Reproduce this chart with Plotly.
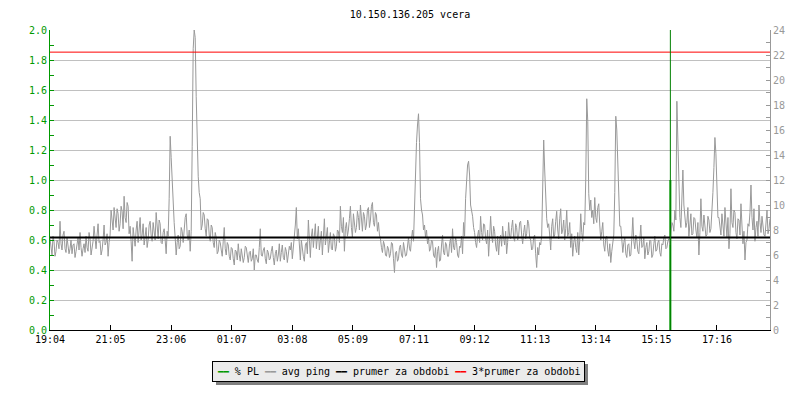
import plotly.graph_objects as go

# ---------------- data ----------------
title_text = "10.150.136.205 vcera"
start_time = "19:04"
tick_labels = ["19:04", "21:05", "23:06", "01:07", "03:08", "05:09",
               "07:11", "09:12", "11:13", "13:14", "15:15", "17:16"]
sample_step_min = 2          # minutes between ping samples
x_end_min = 1438             # end of time window (minutes from start)

# average ping (ms), right axis, one sample every 2 minutes from 19:04
avg_ping_ms = [
    # 19:04 -
    7.3, 6.4, 6.0, 7.5, 7.1, 5.9, 6.3, 7.2, 7.0, 6.5, 8.7, 6.9, 6.4, 7.6, 7.9, 6.5, 6.2, 7.4, 6.8, 6.1,
    6.5, 7.2, 6.1, 6.8, 6.9, 5.8, 6.3, 6.7, 7.4, 6.4,
    7.8, 6.6, 5.9, 6.5, 6.9, 6.2, 7.5, 6.6, 6.3, 7.8, 7.3, 6.0, 6.6, 7.1, 8.3, 6.9, 6.5, 7.6, 8.5, 7.0,
    7.1, 6.0, 6.4, 7.2, 8.4, 6.8, 7.0, 7.7, 5.9, 7.0,
    7.6, 9.6, 8.9, 8.0, 9.8, 8.6, 8.2, 9.7, 9.3, 7.9, 8.5, 9.9, 9.5, 8.1, 10.7, 9.0, 8.6, 10.2, 9.9, 7.7,
    8.3, 7.1, 5.5, 8.2, 7.4, 6.7, 8.0, 8.7, 7.0, 7.9, 9.0, 7.2, 7.6, 8.5, 6.8, 7.5, 8.2, 6.6, 7.2, 8.4,
    8.7, 7.6, 7.1, 8.6, 8.0, 7.2, 9.4, 8.1, 7.3, 8.8, 8.5, 7.0, 6.9, 7.8, 8.1, 7.2, 6.1, 7.9, 7.5, 10.5,
    15.5, 13.8, 12.0, 9.6,
    8.6, 7.4, 6.0, 7.0, 7.6, 6.5, 6.7, 8.2, 7.9, 7.0, 8.3, 9.0, 9.3, 7.6, 7.2, 8.0, 6.3, 7.9,
    14.7, 22.5, 24.0, 23.4, 18.7, 14.6, 12.3, 11.0,
    10.5, 8.0, 8.4, 9.4, 9.2, 8.1, 7.5, 8.9, 8.8, 7.6, 7.1, 8.4, 8.2, 7.0, 6.6, 7.8, 7.4, 6.1,
    6.3, 7.2, 7.0, 6.4, 5.9, 7.1,
    # ~ 01:00 -
    8.2, 6.5, 6.0, 7.0, 6.8, 5.9, 5.6, 6.6, 6.5, 5.7, 5.2, 6.4, 6.3, 5.6, 6.9, 6.0, 5.5, 6.5,
    6.1, 5.4, 5.8, 6.7, 6.6, 5.9, 5.4, 6.2,
    6.3, 5.5, 5.7, 6.5, 4.8, 6.0, 6.0, 5.6, 5.4, 6.6, 8.1, 6.0, 5.9, 6.4, 6.6, 5.7, 5.3, 6.4, 6.2, 5.6,
    5.7, 6.3, 6.7, 5.8, 5.2, 6.1, 6.4, 5.5, 6.0, 6.9, 5.5, 6.2, 6.8, 5.8, 5.6, 6.6, 6.3, 5.4, 5.9, 6.7,
    6.4, 7.0, 5.7, 6.5, 7.1, 8.4, 9.8, 7.3, 8.1, 6.7, 5.6, 7.2, 6.3, 5.9, 5.5, 6.8,
    7.0, 6.1, 8.8, 7.2, 5.8, 7.5, 8.1, 6.6, 7.4, 8.5, 6.5, 7.3, 8.3, 6.4, 7.1, 7.9, 6.0, 7.4,
    8.9, 6.8, 7.6, 8.2, 6.2, 7.0, 7.8, 6.5, 6.4, 7.7, 7.5, 6.3, 6.7, 8.0, 7.9, 7.0,
    9.9, 8.3, 7.8, 9.0, 6.3, 8.1, 8.6, 7.5, 8.0, 8.9, 9.9, 8.2, 7.4, 9.3, 8.7, 7.8, 8.2, 9.5, 9.0, 8.0,
    10.0, 8.5, 7.9, 9.4, 9.1, 8.0, 8.4, 9.6, 9.8, 8.2, 8.8, 9.9, 10.2, 8.6, 8.3, 9.4, 9.2, 7.9, 8.6, 7.6,
    7.3, 6.6, 6.2, 7.1, 6.8, 6.0, 5.9, 6.7, 6.5, 5.8, 6.1, 7.0, 6.9, 5.7, 4.6, 6.2, 6.3, 5.5, 5.7, 6.6,
    6.8, 6.0, 5.8, 7.0, 6.6, 5.9, 6.0, 7.1, 7.4, 6.5,
    # ~ 07:00 -
    6.3, 7.3, 8.0, 7.1,
    9.9, 13.0, 15.0, 16.4, 17.3, 15.0, 10.5, 9.6, 9.2, 8.0, 8.4, 7.4, 8.0, 6.9,
    7.4, 6.3, 6.5, 7.2, 7.1, 6.0, 5.8, 6.6, 5.0, 6.3, 6.7, 5.5, 5.6, 6.8, 7.6, 6.2, 6.0, 7.0,
    6.8, 5.9, 5.9, 6.9, 7.3, 6.2, 8.1, 6.6, 6.4, 7.4, 7.0, 6.0, 5.8, 6.7, 6.6, 7.5, 6.1, 8.6,
    7.5, 10.5, 12.0, 13.2, 13.5, 12.4, 10.0, 9.6, 9.1, 8.2, 7.8, 7.0,
    6.6, 7.5, 8.0, 7.0, 9.1, 7.8, 7.2, 8.5, 8.4, 7.3, 6.9, 8.0, 5.9, 7.4, 9.1, 7.6, 7.0, 8.3,
    7.9, 6.8, 6.3, 7.5, 6.0, 7.2, 7.6, 6.7, 8.3, 7.4, 6.8, 7.9, 6.1, 7.0, 8.6, 7.5, 7.3, 8.2,
    8.8, 7.4, 7.1, 8.5, 8.2, 7.2, 7.5, 8.6, 8.7, 7.6, 6.9, 7.8, 8.4, 7.3, 7.7, 8.8, 8.5, 7.4,
    # ~ 11:00 -
    7.2, 6.4, 6.5, 7.4, 7.6, 6.1, 5.0, 6.6, 6.0, 7.0, 6.8, 7.5,
    11.0, 15.2, 12.8, 10.4, 8.9, 8.2,
    8.5, 7.6, 6.4, 8.3, 8.9, 7.4, 7.6, 8.7, 9.5, 8.0, 7.3, 8.9, 9.7, 7.7, 8.0, 8.8, 7.2, 8.1,
    9.6, 7.5, 7.8, 8.6, 6.6, 7.7, 5.9, 7.0, 7.5, 6.6, 6.2, 7.8, 6.0, 7.2, 9.3, 7.8, 7.1, 8.6,
    8.4, 12.0, 18.5, 16.7, 10.9, 9.6, 10.4, 9.0,
    9.6, 8.5, 10.6, 9.0, 8.6, 9.8, 10.1, 8.4,
    7.2, 7.9, 8.6, 6.8, 6.3, 7.4, 7.5, 6.4, 5.9, 6.9, 5.4, 6.3, 6.8, 7.6,
    11.0, 17.1, 16.0, 13.5, 10.0, 8.3, 8.3, 7.0,
    6.2, 7.0, 7.4, 6.1, 5.8, 6.8, 6.9, 5.9, 6.0, 7.3, 9.0, 7.1, 6.5, 7.6, 7.2, 6.3,
    6.1, 7.2, 8.4, 6.6, 6.7, 7.4, 5.7, 6.6, 7.0, 6.0, 6.3, 7.2, 7.1, 5.8, 6.0, 6.9,
    7.5, 6.3, 6.4, 7.0, 7.2, 6.2, 5.9, 6.9, 6.8, 7.4, 7.6, 6.5, 6.6, 7.1, 7.3, 6.8,
    # ~ 15:40 -
    7.8, 8.6, 8.4, 7.9, 9.6, 8.8, 18.3, 14.7, 11.5, 9.0, 8.2, 10.4, 12.8, 10.0, 9.0, 8.2,
    8.6, 9.8, 7.5, 8.5, 9.3, 7.6, 7.7, 9.0, 8.9, 8.0, 7.4, 8.6, 6.0, 7.8, 10.5, 8.3,
    7.9, 9.2, 8.4, 7.5, 7.6, 9.1, 8.8, 7.8, 8.1, 9.3,
    11.0, 13.0, 15.4, 14.1, 11.0, 9.0,
    9.0, 8.0, 7.6, 9.3, 8.5, 7.5, 9.8, 8.4, 7.4, 9.0, 6.5, 7.7, 11.3, 8.6, 8.2, 9.6,
    9.4, 7.8, 7.3, 8.9, 8.8, 7.6, 10.1, 8.4, 6.9, 7.9, 5.6, 7.0, 7.2, 8.5, 8.3, 9.4,
    11.6, 9.0, 8.0, 9.7, 7.1, 8.2, 8.7, 7.5, 10.0, 8.6, 7.8, 9.1, 8.5, 7.6, 7.5, 8.8,
    9.6, 7.7, 8.1, 8.9,
]

mean_ping_ms = 7.41                 # "prumer za obdobi"
three_mean_ms = 3 * mean_ping_ms    # "3*prumer za obdobi"

pl_event_time = "15:43"             # packet loss event
pl_percent = 1.0                    # % PL at the event

legend_names = ["% PL", "avg ping", "prumer za obdobi", "3*prumer za obdobi"]
legend_colors = ["#009900", "#999999", "#000000", "#ff0000"]

# ---------------- helpers ----------------
def minutes_from_start(label):
    h, m = map(int, label.split(":"))
    sh, sm = map(int, start_time.split(":"))
    d = (h * 60 + m) - (sh * 60 + sm)
    return d + 1440 if d < 0 else d

tick_vals = [minutes_from_start(t) for t in tick_labels]
ping_x = [i * sample_step_min for i in range(len(avg_ping_ms))]
pl_min = minutes_from_start(pl_event_time)

FONT = "DejaVu Sans Mono"
GREEN = "#009900"
GRAY = "#999999"
NBSP = "\u00a0"

fig = go.Figure()

fig.add_trace(go.Scatter(x=ping_x, y=avg_ping_ms, yaxis="y2", mode="lines",
                         line=dict(color=GRAY, width=1), name=legend_names[1],
                         showlegend=False))
fig.add_trace(go.Scatter(x=[0, x_end_min], y=[mean_ping_ms, mean_ping_ms], yaxis="y2",
                         mode="lines", line=dict(color="#000000", width=2),
                         name=legend_names[2], showlegend=False))
fig.add_trace(go.Scatter(x=[0, x_end_min], y=[three_mean_ms, three_mean_ms], yaxis="y2",
                         mode="lines", line=dict(color="#ff0000", width=1),
                         name=legend_names[3], showlegend=False))
fig.add_trace(go.Scatter(x=[pl_min, pl_min], y=[0, pl_percent], yaxis="y",
                         mode="lines", line=dict(color=GREEN, width=2),
                         name=legend_names[0], showlegend=False))

fig.add_shape(type="line", xref="x", yref="paper", x0=pl_min, x1=pl_min, y0=0, y1=1,
              line=dict(color="#008000", width=1))

# legend built as text with coloured markers, plus a drop shadow
def legend_text(colors, blank=False):
    parts = []
    for c, n in zip(colors, legend_names):
        mark = NBSP * 2 if blank else "━━"
        name = NBSP * len(n) if blank else n
        parts.append('<span style="color:%s;font-size:9px">%s</span>%s%s'
                     % (c, mark, NBSP, name))
    return NBSP.join(parts)

common = dict(xref="paper", yref="paper", x=0.4847, y=-0.1377,
              xanchor="center", yanchor="middle", showarrow=False,
              borderpad=4, borderwidth=1)
fig.add_annotation(text=legend_text(["#808080"] * 4, blank=True), bgcolor="#808080",
                   bordercolor="#808080", xshift=3, yshift=-3,
                   font=dict(family=FONT, size=10, color="#808080"), **common)
fig.add_annotation(text=legend_text(legend_colors), bgcolor="#ebebeb",
                   bordercolor="#000000",
                   font=dict(family=FONT, size=10, color="#000000"), **common)

fig.update_layout(
    width=800, height=400,
    margin=dict(l=50, r=30, t=30, b=70, pad=0, autoexpand=False),
    paper_bgcolor="white", plot_bgcolor="white",
    showlegend=False,
    title=dict(text=title_text, x=0.5, xref="paper", y=1 - 14 / 400, yref="container",
               xanchor="center", yanchor="middle", automargin=False,
               font=dict(family=FONT, size=10, color="#000000")),
    xaxis=dict(range=[0, x_end_min], tickmode="array", tickvals=tick_vals,
               ticktext=tick_labels, ticks="inside", ticklen=5, tickcolor="#000000",
               showline=True, linecolor="#000000", linewidth=1, showgrid=False,
               zeroline=False, automargin=False,
               tickfont=dict(family=FONT, size=10, color="#000000")),
    yaxis=dict(range=[0, 2], dtick=0.2, tickformat=".1f", ticks="inside", ticklen=4,
               tickcolor=GREEN, showline=True, linecolor=GREEN, linewidth=1,
               showgrid=True, gridcolor="#c0c0c0", gridwidth=1, zeroline=False,
               automargin=False,
               tickfont=dict(family=FONT, size=10, color=GREEN),
               minor=dict(dtick=0.1, ticks="inside", ticklen=4, tickcolor=GREEN,
                          showgrid=False)),
    yaxis2=dict(range=[0, 24], dtick=2, overlaying="y", side="right", ticks="inside",
                ticklen=4, tickcolor=GRAY, showline=True, linecolor=GRAY, linewidth=1,
                showgrid=False, zeroline=False, automargin=False,
                tickfont=dict(family=FONT, size=10, color=GRAY),
                minor=dict(dtick=1, ticks="inside", ticklen=4, tickcolor=GRAY)),
)

fig.write_html("out.html", config={"displayModeBar": False},
               post_script="document.body.style.margin='0';"
                           "document.body.style.overflow='hidden';")
